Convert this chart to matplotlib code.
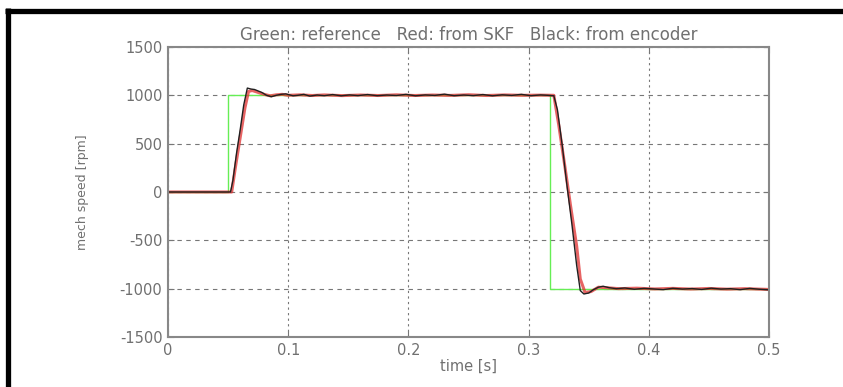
import matplotlib.pyplot as plt
from matplotlib.lines import Line2D

plt.rcParams['axes.unicode_minus'] = False

# reference speed (green)
t_ref = [0, 0.05, 0.05, 0.318, 0.318, 0.5]
w_ref = [0, 0, 1000, 1000, -1000, -1000]

# speed from SKF (red)
t_skf = [0, 0.053, 0.056, 0.060, 0.064, 0.067, 0.070, 0.075, 0.080, 0.085, 0.090,
         0.095, 0.100, 0.110, 0.120, 0.130, 0.145, 0.160, 0.175, 0.190, 0.205,
         0.220, 0.235, 0.250, 0.265, 0.280, 0.295, 0.310, 0.321, 0.325, 0.330,
         0.335, 0.340, 0.343, 0.347, 0.352, 0.358, 0.365, 0.375, 0.390, 0.405,
         0.420, 0.435, 0.450, 0.465, 0.480, 0.500]
w_skf = [0, 0, 250, 560, 870, 1040, 1050, 1030, 1010, 995, 1005,
         1010, 1000, 1005, 998, 1004, 997, 1003, 998, 1005, 998,
         1003, 999, 1006, 998, 1004, 1000, 1002, 1000, 700, 280,
         -150, -560, -900, -1040, -1030, -985, -990, -1000, -995, -1003,
         -997, -1004, -998, -1005, -1000, -1008]

# speed from encoder (black)
t_enc = [0, 0.052, 0.054, 0.057, 0.060, 0.063, 0.066, 0.069, 0.072, 0.075, 0.078,
         0.082, 0.086, 0.090, 0.094, 0.098, 0.101, 0.104, 0.108, 0.113, 0.118,
         0.124, 0.130, 0.137, 0.144, 0.151, 0.158, 0.166, 0.174, 0.182, 0.190,
         0.198, 0.206, 0.214, 0.222, 0.230, 0.238, 0.246, 0.254, 0.262, 0.270,
         0.278, 0.286, 0.294, 0.302, 0.310, 0.316, 0.321, 0.324, 0.328, 0.332,
         0.336, 0.340, 0.343, 0.346, 0.350, 0.354, 0.358, 0.362, 0.367, 0.373,
         0.380, 0.388, 0.396, 0.404, 0.412, 0.420, 0.428, 0.436, 0.444, 0.452,
         0.460, 0.468, 0.476, 0.484, 0.492, 0.500]
w_enc = [0, 0, 120, 400, 640, 900, 1075, 1065, 1060, 1045, 1030,
         1000, 985, 1000, 1010, 1015, 1005, 995, 1000, 1010, 992,
         1003, 996, 1008, 995, 1004, 997, 1008, 996, 1003, 998,
         1010, 995, 1004, 999, 1012, 996, 1003, 997, 1008, 995,
         1005, 999, 1010, 996, 1004, 1000, 995, 850, 480, 60,
         -330, -760, -1020, -1055, -1045, -1010, -985, -975, -990, -1000,
         -993, -1006, -997, -1003, -1010, -996, -1004, -999, -1008, -995,
         -1004, -1000, -1010, -997, -1006, -1012]

fig = plt.figure(figsize=(8.43, 3.87), dpi=100)
ax = fig.add_axes([0.1993, 0.1292, 0.7129, 0.7494])

ax.plot(t_ref, w_ref, color='#66ee55', lw=1.0)
ax.plot(t_skf, w_skf, color='#e03030', lw=2.2, alpha=0.75)
ax.plot(t_enc, w_enc, color='#202020', lw=1.0)

ax.set_xlim(0, 0.5)
ax.set_ylim(-1500, 1500)
ax.set_xticks([0, 0.1, 0.2, 0.3, 0.4, 0.5])
ax.set_xticklabels(['0', '0.1', '0.2', '0.3', '0.4', '0.5'])
ax.set_yticks([-1500, -1000, -500, 0, 500, 1000, 1500])

ax.xaxis.grid(True, color='#777777', linestyle=(0, (2, 3)), lw=0.8)
ax.yaxis.grid(True, color='#777777', linestyle=(0, (4, 4)), lw=0.8)

txt = '#707070'
for s in ax.spines.values():
    s.set_color('#888888')
    s.set_linewidth(1.5)
ax.tick_params(direction='in', top=True, right=True, length=4, color='#777777',
               labelsize=10.5, labelcolor=txt, pad=4)

ax.set_title('Green: reference   Red: from SKF   Black: from encoder',
             fontsize=12, color=txt, pad=5)
ax.set_xlabel('time [s]', fontsize=10.5, color=txt, labelpad=1)
ax.set_ylabel('mech speed [rpm]', fontsize=9, color=txt, labelpad=22)

# black frame around the figure (cut at right and bottom)
fig.add_artist(Line2D([7.5 / 843, 7.5 / 843], [0, 1 - 8 / 387], color='black', lw=3.8,
                      solid_capstyle='butt', transform=fig.transFigure))
fig.add_artist(Line2D([5 / 843, 1], [1 - 10.5 / 387, 1 - 10.5 / 387], color='black', lw=3.8,
                      solid_capstyle='butt', transform=fig.transFigure))

fig.savefig('out.png', dpi=100)
